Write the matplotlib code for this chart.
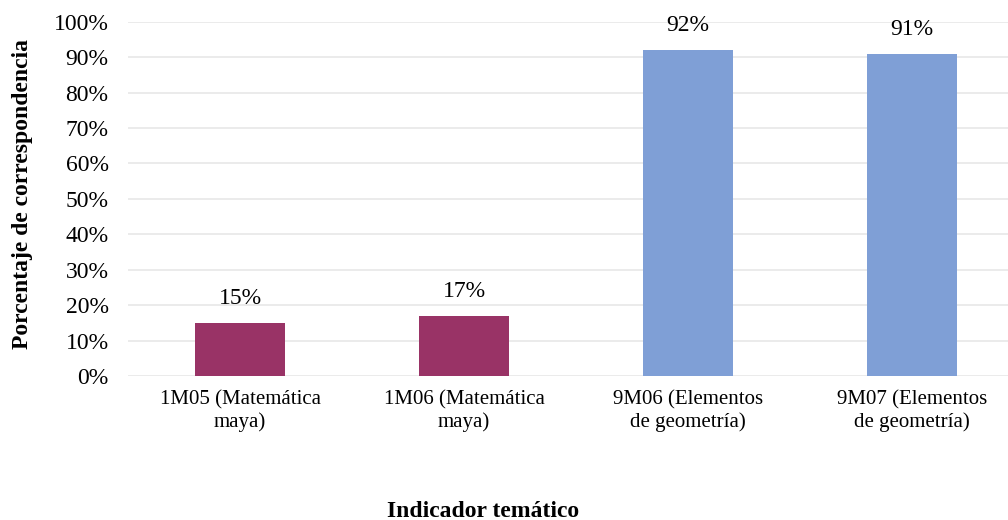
import matplotlib.pyplot as plt
from matplotlib.ticker import PercentFormatter

# indicadores y porcentajes
categorias = ['1M05 (Matemática\nmaya)', '1M06 (Matemática\nmaya)',
              '9M06 (Elementos\nde geometría)', '9M07 (Elementos\nde geometría)']
valores = [15, 17, 92, 91]
colores = ['#993366', '#993366', '#7F9FD6', '#7F9FD6']

plt.rcParams['font.family'] = ['Liberation Serif', 'DejaVu Serif']

fig = plt.figure(figsize=(10.08, 5.2), dpi=100)
ax = fig.add_axes([0.127, 0.277, 0.889, 0.681])

x = range(len(categorias))
bars = ax.bar(x, valores, width=0.4, color=colores, zorder=3)
ax.bar_label(bars, labels=[f'{v}%' for v in valores], padding=10, fontsize=17)

ax.set_ylim(0, 100)
ax.set_yticks(range(0, 101, 10))
ax.yaxis.set_major_formatter(PercentFormatter(decimals=0))
ax.set_xlim(-0.5, 3.5)
ax.set_xticks(list(x))
ax.set_xticklabels(categorias, fontsize=15, linespacing=1.2)
ax.tick_params(axis='y', labelsize=17, length=0, pad=14)
ax.tick_params(axis='x', length=0, pad=10)
ax.grid(axis='y', color='#E8E8E8', linewidth=1.2, zorder=0)
for s in ax.spines.values():
    s.set_visible(False)

fig.text(0.022, 0.627, 'Porcentaje de correspondencia', rotation=90,
         ha='center', va='center', fontsize=17, fontweight='bold')
fig.text(0.479, 0.017, 'Indicador temático', ha='center', va='center',
         fontsize=17, fontweight='bold')

fig.savefig('out.png', dpi=100)
